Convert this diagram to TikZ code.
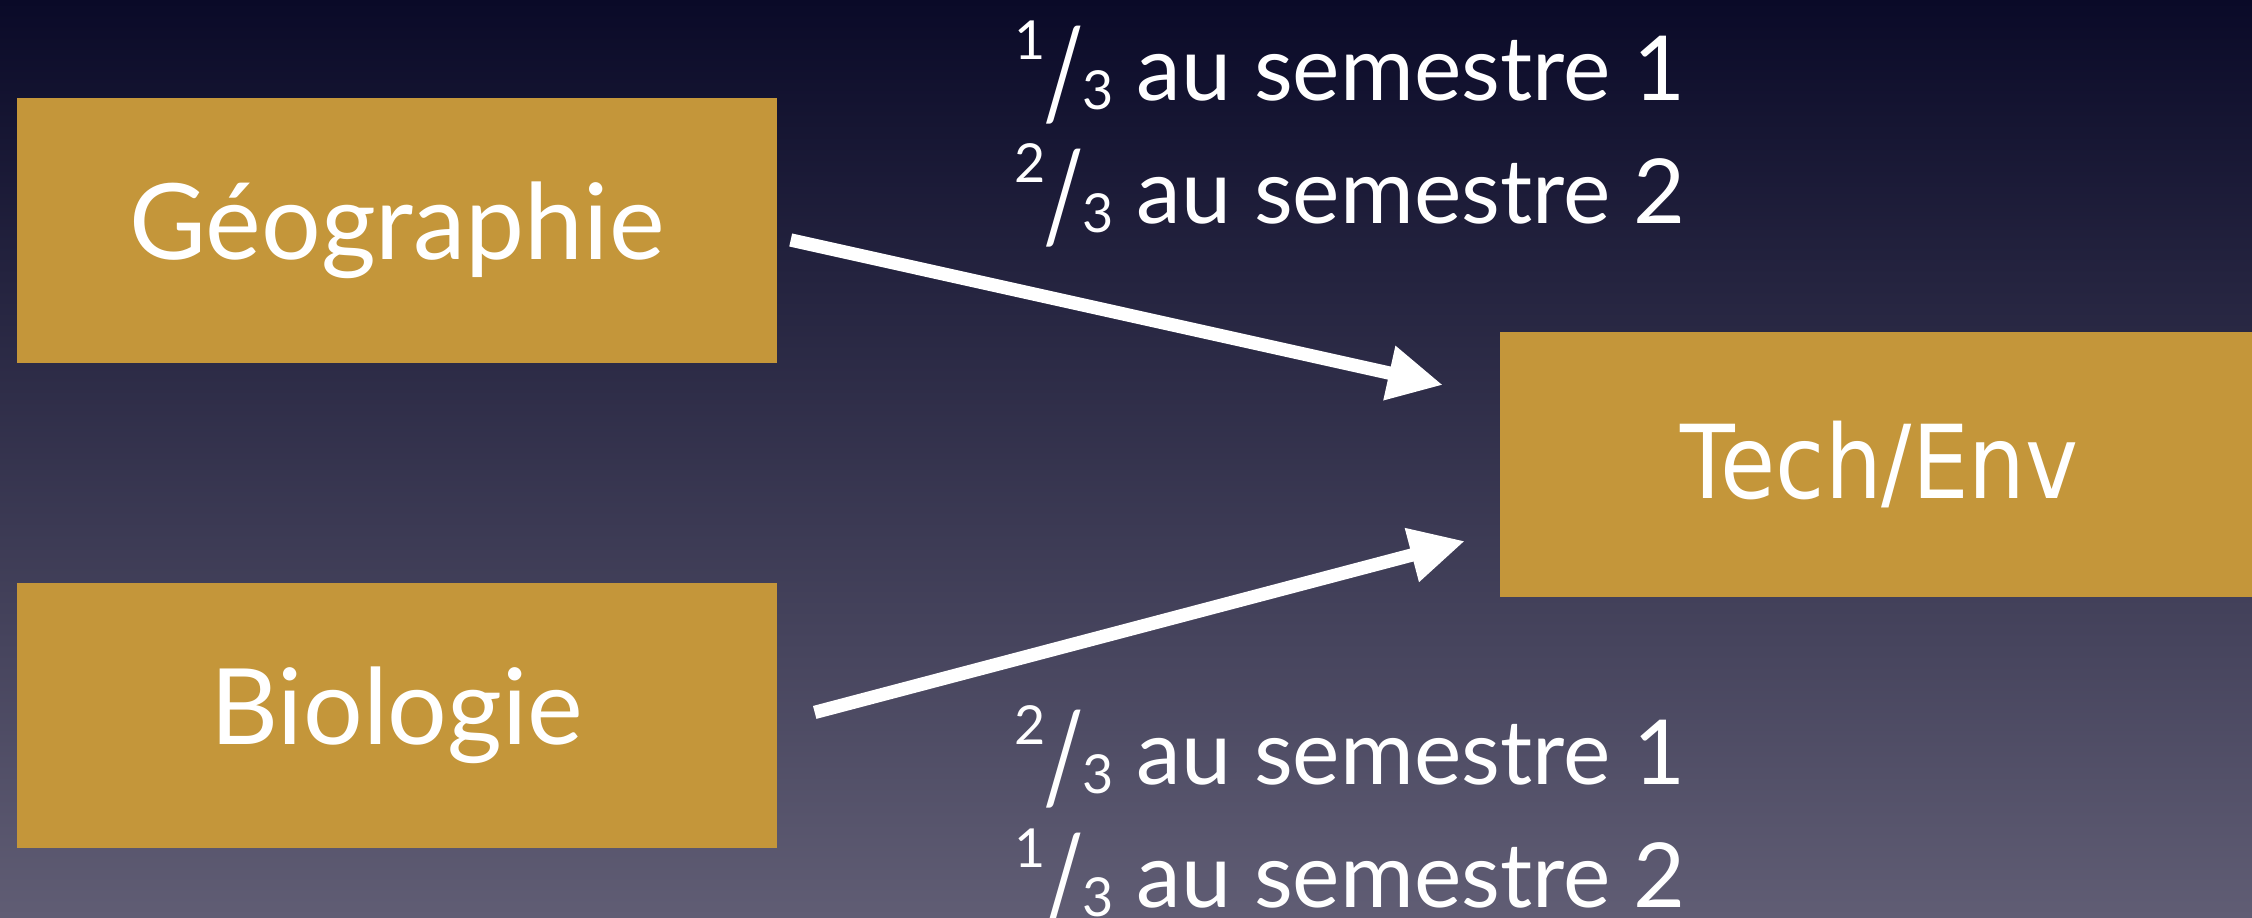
\documentclass[tikz,border=0pt]{standalone}
\usepackage{fontspec}
\setmainfont{Lato}
\newfontfamily\techfont{DejaVu Sans}[FakeStretch=0.88]
\usetikzlibrary{arrows.meta, positioning}
\definecolor{gold}{RGB}{196,150,58}
\definecolor{navytop}{RGB}{10,10,40}
\definecolor{slatebottom}{RGB}{96,93,116}
\newcommand{\frc}[2]{\raisebox{0.45em}{\scalebox{0.6}{#1}}\kern-0.02em\raisebox{-0.2em}{\scalebox{1}[1.4]{/}}\kern-0.02em\raisebox{-0.1em}{\scalebox{0.6}{#2}}}
\tikzset{
  subject/.style={fill=gold, text=white, minimum width=7.6cm, minimum height=2.65cm,
                  font=\fontsize{30}{36}\selectfont},
  share/.style={text=white, align=left, anchor=west, font=\fontsize{25.5}{35}\selectfont},
  flow/.style={-{Triangle[length=0.55cm, width=0.52cm]}, line width=3.8pt, white}
}
\begin{document}
\begin{tikzpicture}
\shade[top color=navytop, bottom color=slatebottom] (0,0) rectangle (22.52,9.17);
\useasboundingbox (0,0) rectangle (22.52,9.17);

\node[subject] (geo) at (3.97,6.87) {Géographie};
\node[subject, below = 2.19cm of geo] (bio) {Biologie};
\node[subject, anchor=west, font=\techfont\fontsize{29}{35}\selectfont] (tech) at (14.99,4.53) {\raisebox{-0.08cm}{Tech/Env}};

\node[share] (topshare) at (10.02,7.83) {\frc{1}{3} au semestre 1\\ \frc{2}{3} au semestre 2};
\node[share] (botshare) at (10.02,0.99) {\frc{2}{3} au semestre 1\\ \frc{1}{3} au semestre 2};

\draw[flow] ([xshift=0.13cm, yshift=-0.1cm]geo.east) -- ([xshift=-0.56cm, yshift=0.79cm]tech.west);
\draw[flow] ([xshift=0.37cm, yshift=0.03cm]bio.east) -- ([xshift=-0.34cm, yshift=-0.77cm]tech.west);
\end{tikzpicture}
\end{document}
